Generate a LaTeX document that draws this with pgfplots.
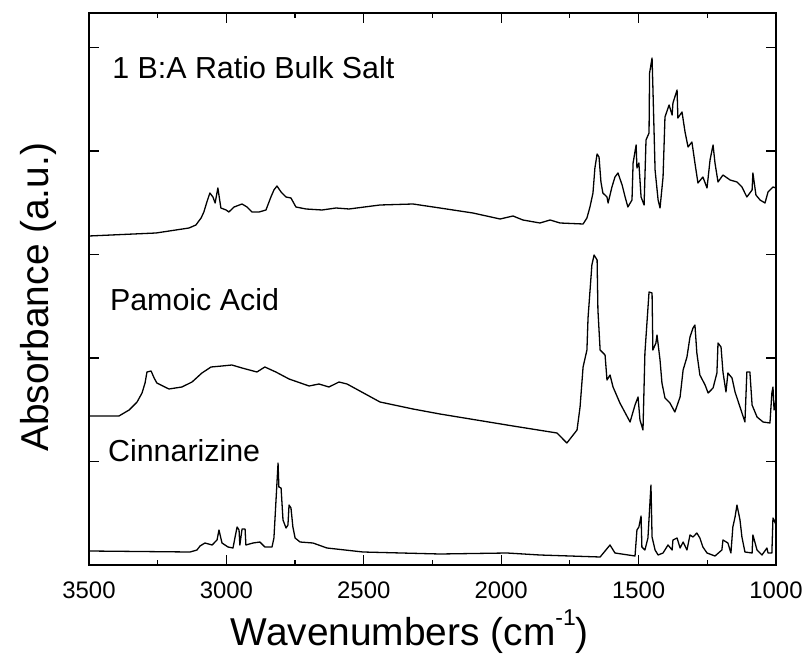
\documentclass[border=0pt]{standalone}
\usepackage{fontspec}
\setmainfont{Liberation Sans}
\usepackage{pgfplots}
\pgfplotsset{compat=1.18}
\begin{document}
\begin{tikzpicture}
\begin{axis}[
  scale only axis, width=687bp, height=552bp,
  xmin=1000, xmax=3500, x dir=reverse,
  ymin=0, ymax=552,
  xtick={1000,1500,2000,2500,3000,3500},
  minor x tick num=1,
  ytick={103.5,207,310.5,414,517.5}, yticklabels={},
  scaled x ticks=false,
  /pgf/number format/1000 sep={},
  /pgf/number format/assume math mode=true,
  tick label style={font=\fontsize{24}{28}\selectfont},
  xticklabel style={anchor=center, yshift=-25bp},
  major tick length=10bp, minor tick length=5bp,
  every tick/.style={black, line width=1.2bp},
  axis line style={line width=1.5bp},
  xlabel={Wavenumbers (cm\raisebox{0.5em}{\fontsize{23}{26}\selectfont -1})},
  ylabel={Absorbance (a.u.)},
  xlabel style={font=\fontsize{39}{44}\selectfont, at={(axis description cs:0.467,-0.121)}, anchor=center},
  ylabel style={font=\fontsize{39}{44}\selectfont, at={(axis description cs:-0.074,0.485)}, anchor=center},
  cycle list={{black, line width=1.3bp, mark=none}},
  clip=true,
]
\coordinate (sw) at (axis description cs:0,0);
\coordinate (ne) at (axis description cs:1,1);
% 1 B:A Ratio Bulk Salt
\addplot[black, line width=1.3bp, mark=none, line join=round] coordinates {
(3500,329)(3256,332)(3136,337)(3111,340)(3092,347)(3082,353)(3071,363)(3060,372)(3049,368)(3041,362)(3031,377)(3020,357)(3001,355)(2991,353)(2972,358)(2943,361)(2925,358)(2907,353)(2881,353)(2856,355)(2838,368)(2827,375)(2816,379)(2801,373)(2783,368)(2765,367)(2747,358)(2710,356)(2652,355)(2601,357)(2554,356)(2441,360)(2321,361)(2223,357)(2103,352)(2004,346)(1957,349)(1921,345)(1859,342)(1822,345)(1786,342)(1702,341)(1688,347)(1677,358)(1666,372)(1659,397)(1651,411)(1644,408)(1637,383)(1630,372)(1615,368)(1611,362)(1597,378)(1586,388)(1575,392)(1560,380)(1549,368)(1539,358)(1524,365)(1520,402)(1509,420)(1506,397)(1499,402)(1491,368)(1480,360)(1473,425)(1462,432)(1460,492)(1451,507)(1448,478)(1440,395)(1429,365)(1422,357)(1411,388)(1404,448)(1389,460)(1378,450)(1375,462)(1360,475)(1357,447)(1342,453)(1331,433)(1320,418)(1306,423)(1295,402)(1284,382)(1266,388)(1251,377)(1240,405)(1229,420)(1222,402)(1211,383)(1193,390)(1167,385)(1142,383)(1124,378)(1106,368)(1087,375)(1084,392)(1073,370)(1058,365)(1040,362)(1029,373)(1011,378)(1000,377)
};
% Pamoic Acid
\addplot[black, line width=1.3bp, mark=none, line join=round] coordinates {
(3500,149)(3391,149)(3354,155)(3325,163)(3307,172)(3296,182)(3289,193)(3274,194)(3263,187)(3253,182)(3209,176)(3162,178)(3125,183)(3089,192)(3056,198)(3016,199)(2980,200)(2943,197)(2889,193)(2860,198)(2820,193)(2772,186)(2699,179)(2663,181)(2627,178)(2590,183)(2561,181)(2441,163)(2321,156)(2223,151)(1957,139)(1797,132)(1761,122)(1724,135)(1713,158)(1702,198)(1688,215)(1684,247)(1670,300)(1662,310)(1651,305)(1648,255)(1640,215)(1622,210)(1615,185)(1604,190)(1593,178)(1568,162)(1531,143)(1513,160)(1502,168)(1495,145)(1484,135)(1477,212)(1462,273)(1451,272)(1448,215)(1437,222)(1433,230)(1422,205)(1415,182)(1404,167)(1386,162)(1368,153)(1349,168)(1338,195)(1324,208)(1313,228)(1302,237)(1295,240)(1288,212)(1277,190)(1258,180)(1247,172)(1229,177)(1215,192)(1211,222)(1200,218)(1193,193)(1182,173)(1175,192)(1160,187)(1149,173)(1131,158)(1113,143)(1106,193)(1095,193)(1087,160)(1069,148)(1047,143)(1022,142)(1015,172)(1011,178)(1007,155)(1000,165)
};
% Cinnarizine
\addplot[black, line width=1.3bp, mark=none, line join=round] coordinates {
(3500,14)(3132,13)(3107,15)(3096,19)(3078,22)(3052,20)(3034,25)(3027,35)(3016,22)(2994,18)(2976,17)(2969,27)(2961,38)(2954,35)(2951,20)(2943,36)(2932,36)(2929,20)(2903,22)(2878,23)(2860,18)(2834,18)(2827,27)(2820,62)(2812,102)(2809,78)(2801,77)(2794,45)(2783,37)(2776,40)(2772,60)(2765,57)(2758,38)(2750,27)(2732,23)(2685,22)(2634,17)(2503,13)(2223,11)(1979,12)(1859,10)(1640,8)(1604,20)(1586,12)(1513,9)(1506,35)(1499,38)(1491,49)(1488,18)(1477,15)(1466,27)(1455,80)(1451,28)(1440,15)(1429,10)(1411,12)(1393,20)(1378,15)(1375,25)(1360,27)(1349,17)(1338,23)(1324,15)(1313,30)(1302,28)(1288,32)(1277,27)(1266,18)(1251,12)(1222,9)(1197,15)(1193,25)(1175,22)(1164,12)(1157,38)(1149,48)(1142,60)(1131,45)(1124,28)(1113,13)(1087,12)(1084,30)(1069,15)(1051,10)(1033,17)(1029,12)(1015,12)(1011,47)(1007,45)(1000,40)
};
\node[anchor=base west, font=\fontsize{30.5}{34}\selectfont, inner sep=0pt] at (axis cs:3416,486) {1 B:A Ratio Bulk Salt};
\node[anchor=base west, font=\fontsize{30.5}{34}\selectfont, inner sep=0pt] at (axis cs:3424,254) {Pamoic Acid};
\node[anchor=base west, font=\fontsize{30.5}{34}\selectfont, inner sep=0pt] at (axis cs:3431,103) {Cinnarizine};
\end{axis}
\pgfresetboundingbox
\path ([xshift=-89bp,yshift=-97bp]sw) rectangle ([xshift=31bp,yshift=13bp]ne);
\end{tikzpicture}
\end{document}
